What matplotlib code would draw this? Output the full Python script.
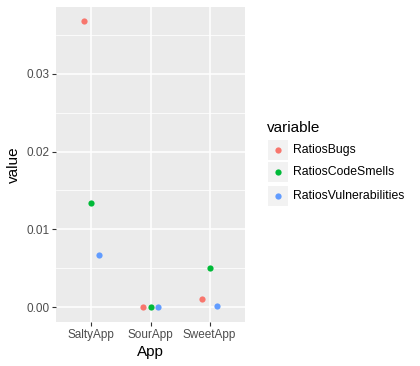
import matplotlib
matplotlib.use("Agg")
import matplotlib.pyplot as plt
from matplotlib.lines import Line2D
from matplotlib.patches import Rectangle

plt.rcParams['font.family'] = ['Liberation Sans', 'DejaVu Sans']

apps = ["SaltyApp", "SourApp", "SweetApp"]
variables = ["RatiosBugs", "RatiosCodeSmells", "RatiosVulnerabilities"]
ratios_bugs = [0.0368, 0.0, 0.0010]
ratios_code_smells = [0.01335, 0.0, 0.0050]
ratios_vulnerabilities = [0.00665, 0.0, 0.00017]
series = [ratios_bugs, ratios_code_smells, ratios_vulnerabilities]
colors = ["#F8766D", "#00BA38", "#619CFF"]
offsets = [-0.13, 0.0, 0.13]
yticks = [0.0, 0.01, 0.02, 0.03]
ytick_labels = ["0.00", "0.01", "0.02", "0.03"]

fig = plt.figure(figsize=(4.2, 3.66), dpi=100)
ax = fig.add_axes([56/420, 1-322/366, (245-56)/420, (322-7)/366])
ax.set_facecolor("#EBEBEB")
for s in ax.spines.values():
    s.set_visible(False)

ax.set_xlim(-0.6, 2.6)
ax.set_ylim(-0.00193, 0.0386)
ax.set_yticks(yticks)
ax.set_yticklabels(ytick_labels)
ax.set_yticks([0.005, 0.015, 0.025, 0.035], minor=True)
ax.set_xticks(range(len(apps)))
ax.set_xticklabels(apps)
ax.grid(which="major", color="white", linewidth=1.1)
ax.grid(which="minor", axis="y", color="white", linewidth=0.55)
ax.set_axisbelow(True)
ax.tick_params(which="major", length=2.75, width=0.8, color="#333333",
               labelcolor="#4D4D4D", labelsize=8.5, pad=2)
ax.tick_params(which="minor", length=0)

for vals, c, off in zip(series, colors, offsets):
    xs = [i + off for i in range(len(apps))]
    ax.scatter(xs, vals, s=20, color=c, zorder=3, linewidths=0)

ax.set_xlabel("App", fontsize=11, labelpad=3)
ax.set_ylabel("value", fontsize=11, labelpad=4)

# legend
fig.text(267/420, 1-128/366, "variable", fontsize=11, va="center", ha="left")
key_y = [150, 172, 196]
for ky, c, name in zip(key_y, colors, variables):
    fig.patches.append(Rectangle((268/420, 1-(ky+10)/366), 20/420, 20/366,
                                 transform=fig.transFigure, facecolor="#F2F2F2",
                                 edgecolor="none"))
    fig.lines.append(Line2D([278/420], [1-ky/366], marker="o", markersize=4.5,
                            color=c, markeredgewidth=0, transform=fig.transFigure))
    fig.text(293/420, 1-ky/366, name, fontsize=8.8, va="center", ha="left")

fig.savefig("out.png", dpi=100)
